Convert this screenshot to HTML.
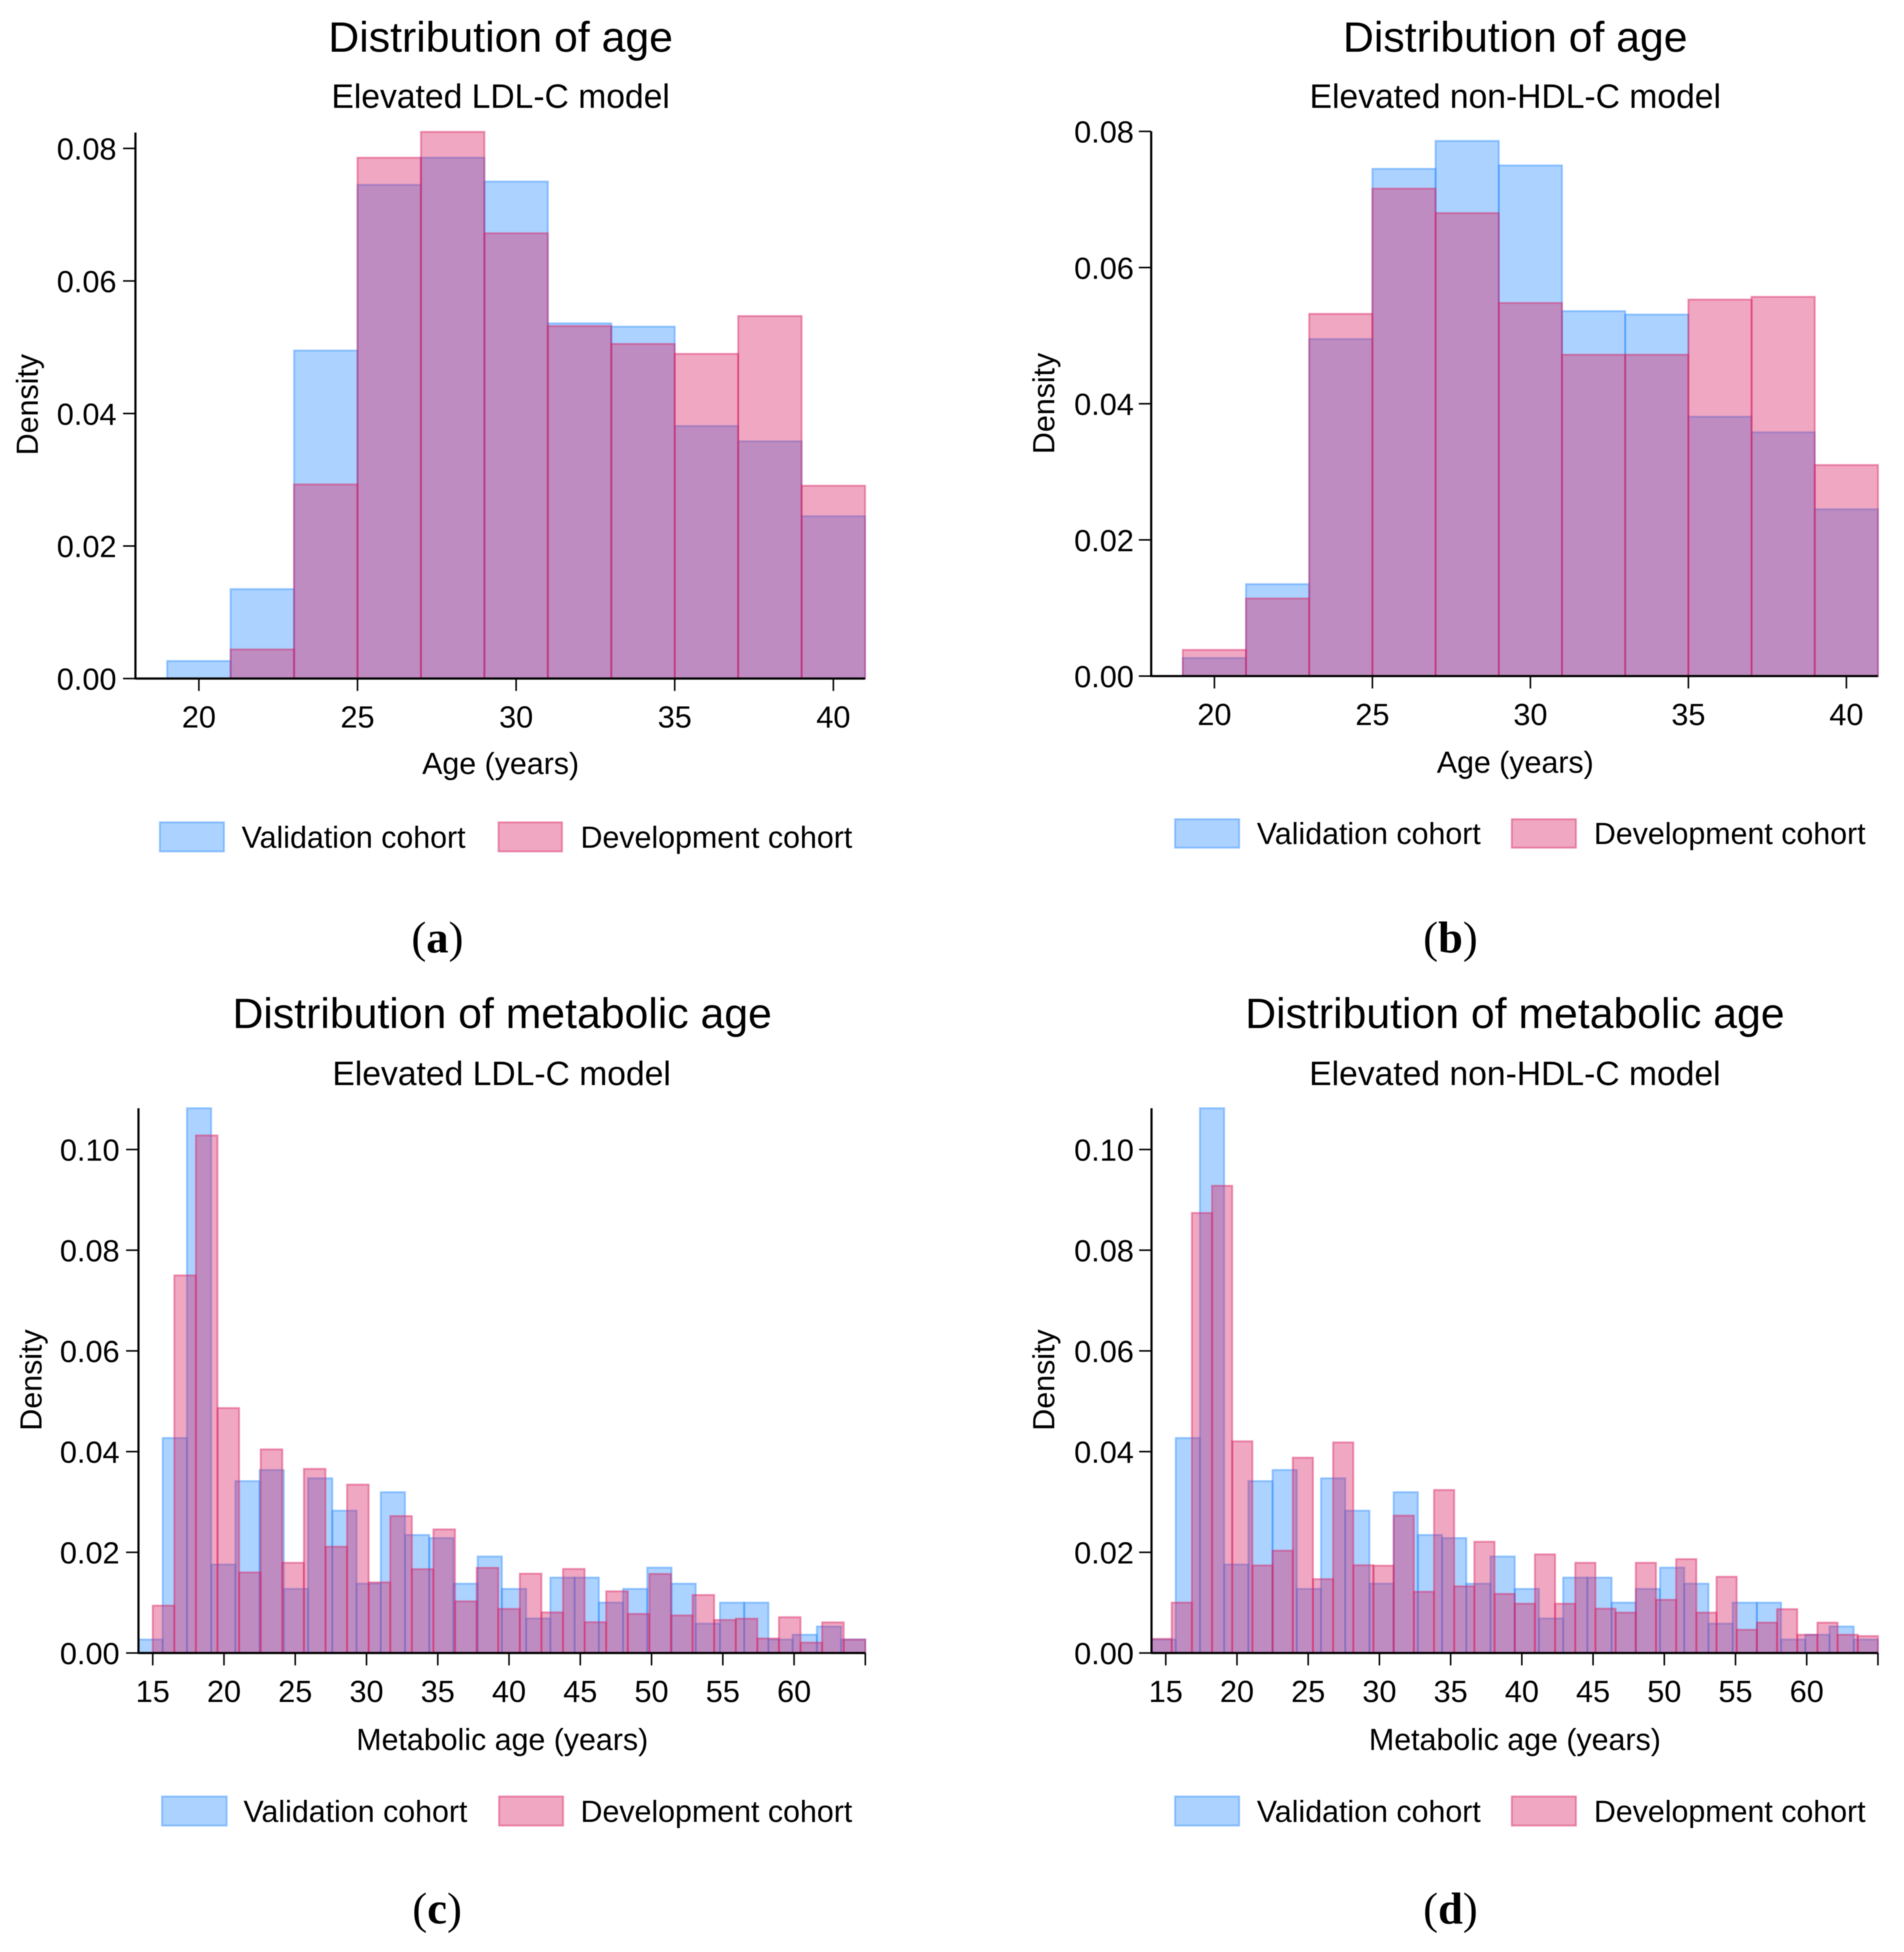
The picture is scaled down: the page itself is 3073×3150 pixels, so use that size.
<!DOCTYPE html>
<html lang="en">
<head>
<meta charset="utf-8">
<title>Distribution of age and metabolic age</title>
<style>
html,body{margin:0;padding:0;background:#fff;}
svg{display:block;filter:blur(0.7px);}
text{font-family:"Liberation Sans",Arial,sans-serif;fill:#000;}
.title{font-size:69px;text-anchor:middle;}
.subtitle{font-size:54.3px;text-anchor:middle;}
.axis-title,.legend-label{font-size:49px;}
.tick-label{font-size:49.5px;}
.axis-title{text-anchor:middle;}
.panel-letter{font-family:"Liberation Serif",serif;font-size:72px;text-anchor:middle;}
.panel-letter .b{font-weight:bold;}
.sw-blue{fill:#2f8eff;fill-opacity:.4;stroke:#2f8eff;stroke-opacity:.45;stroke-width:3;}
.sw-pink{fill:#d92364;fill-opacity:.4;stroke:#d92364;stroke-opacity:.45;stroke-width:3;}
</style>
</head>
<body>
<svg id="figure" xmlns="http://www.w3.org/2000/svg" width="3073" height="3150" viewBox="0 0 3073 3150">
<rect width="3073" height="3150" fill="#fff"/>

<g id="panel-a">
<text class="title" x="808" y="83.500">Distribution of age</text>
<text class="subtitle" x="808" y="174">Elevated LDL-C model</text>
<text class="axis-title" x="808" y="1249">Age (years)</text>
<text class="axis-title" transform="translate(61 653) rotate(-90)">Density</text>
<rect class="sw-blue" x="258" y="1327" width="103.500" height="47"/>
<text class="legend-label" x="390" y="1368">Validation cohort</text>
<rect class="sw-pink" x="804.600" y="1327" width="102.500" height="47"/>
<text class="legend-label" x="937" y="1368">Development cohort</text>
<text class="panel-letter" x="706" y="1537">(<tspan class="b">a</tspan>)</text>
</g>

<g id="panel-b">
<text class="title" x="2445.600" y="83.500">Distribution of age</text>
<text class="subtitle" x="2445.600" y="174">Elevated non-HDL-C model</text>
<text class="axis-title" x="2445.600" y="1247">Age (years)</text>
<text class="axis-title" transform="translate(1701.500 651) rotate(-90)">Density</text>
<rect class="sw-blue" x="1896.500" y="1322" width="103.500" height="46"/>
<text class="legend-label" x="2028.500" y="1362">Validation cohort</text>
<rect class="sw-pink" x="2440" y="1322" width="103.500" height="46"/>
<text class="legend-label" x="2572.500" y="1362">Development cohort</text>
<text class="panel-letter" x="2341" y="1537">(<tspan class="b">b</tspan>)</text>
</g>

<g id="panel-c">
<text class="title" x="810.500" y="1659">Distribution of metabolic age</text>
<text class="subtitle" x="809.600" y="1751">Elevated LDL-C model</text>
<text class="axis-title" x="810.600" y="2824">Metabolic age (years)</text>
<text class="axis-title" transform="translate(67 2227) rotate(-90)">Density</text>
<rect class="sw-blue" x="261.500" y="2899" width="104.400" height="47"/>
<text class="legend-label" x="393" y="2940">Validation cohort</text>
<rect class="sw-pink" x="805.500" y="2899" width="103.300" height="47"/>
<text class="legend-label" x="937" y="2940">Development cohort</text>
<text class="panel-letter" x="705.500" y="3104">(<tspan class="b">c</tspan>)</text>
</g>

<g id="panel-d">
<text class="title" x="2445" y="1659">Distribution of metabolic age</text>
<text class="subtitle" x="2445" y="1751">Elevated non-HDL-C model</text>
<text class="axis-title" x="2445" y="2824">Metabolic age (years)</text>
<text class="axis-title" transform="translate(1701.500 2227) rotate(-90)">Density</text>
<rect class="sw-blue" x="1896.500" y="2899" width="103.500" height="47"/>
<text class="legend-label" x="2028.500" y="2940">Validation cohort</text>
<rect class="sw-pink" x="2440" y="2899" width="103.500" height="47"/>
<text class="legend-label" x="2572.500" y="2940">Development cohort</text>
<text class="panel-letter" x="2341" y="3104">(<tspan class="b">d</tspan>)</text>
</g>
</svg>

<script>
// ----- chart data -----
const validationAge = [0.00265,0.0135,0.0495,0.0745,0.0786,0.0750,0.0536,0.0531,0.0381,0.0358,0.0245];
const developmentAgeLdl = [0.0044,0.0293,0.0786,0.0825,0.0672,0.0532,0.0505,0.0490,0.0547,0.0291];
const developmentAgeNonHdl = [0.00385,0.0114,0.0532,0.0716,0.0680,0.0548,0.0472,0.0472,0.0553,0.0557,0.0310];
const validationMetabolic = [0.00268,0.0427,0.1082,0.01757,0.03414,0.03635,0.01273,0.0347,0.02827,0.01377,0.03194,0.02344,0.02283,0.01377,0.01917,0.01273,0.00686,0.01498,0.01498,0.01001,0.01273,0.01696,0.01377,0.00583,0.0100,0.0100,0.00268,0.00363,0.00527,0.00268];
const developmentMetabolicLdl = [0.00941,0.0750,0.1028,0.04865,0.01601,0.04045,0.01792,0.03658,0.02111,0.03345,0.01403,0.0272,0.01666,0.02456,0.01027,0.01692,0.00876,0.01576,0.00807,0.0167,0.00613,0.01226,0.00777,0.01571,0.00747,0.01153,0.00656,0.00682,0.00289,0.00712,0.00207,0.00609,0.00268];
const developmentMetabolicNonHdl = [0.00281,0.01001,0.0874,0.0928,0.04205,0.0174,0.02033,0.0388,0.01468,0.04183,0.01744,0.01735,0.02728,0.01217,0.03238,0.01325,0.0221,0.01174,0.0098,0.0196,0.0098,0.01792,0.00881,0.00803,0.01792,0.01058,0.01865,0.00803,0.01515,0.00462,0.00604,0.00872,0.00363,0.00604,0.00363,0.00337];
const ageTicks = [20,25,30,35,40];
const ageTickLabels = ["20","25","30","35","40"];
const metabolicTicks = [15,20,25,30,35,40,45,50,55,60,65];
const metabolicTickLabels = ["15","20","25","30","35","40","45","50","55","60",""];
const ageDensityTicks = [0,0.02,0.04,0.06,0.08];
const ageDensityLabels = ["0.00","0.02","0.04","0.06","0.08"];
const metabolicDensityTicks = [0,0.02,0.04,0.06,0.08,0.10];
const metabolicDensityLabels = ["0.00","0.02","0.04","0.06","0.08","0.10"];

// ----- bin layout in data units -----
const ageBinStart = 19, ageBinWidth = 2;
const ageBinStartDevLdl = 21;
const metaBinStartVal = 14, metaBinWidthVal = 1.7;
const metaBinStartDevLdl = 15, metaBinWidthDevLdl = 50 / 33;
const metaBinStartDevNonHdl = 14, metaBinWidthDevNonHdl = 51 / 36;

const NS = 'http://www.w3.org/2000/svg';

function scale(d0, d1, r0, r1) {
  return function (v) { return r0 + (v - d0) * (r1 - r0) / (d1 - d0); };
}

function drawBars(group, panel, series, values, start, width, xs, ys, color) {
  values.forEach(function (v, i) {
    const x0 = xs(start + i * width);
    const x1 = xs(start + (i + 1) * width);
    const r = document.createElementNS(NS, 'rect');
    r.setAttribute('x', x0.toFixed(2));
    r.setAttribute('y', ys(v).toFixed(2));
    r.setAttribute('width', (x1 - x0).toFixed(2));
    r.setAttribute('height', (ys(0) - ys(v)).toFixed(2));
    r.setAttribute('fill', color);
    r.setAttribute('fill-opacity', '0.4');
    r.setAttribute('stroke', color);
    r.setAttribute('stroke-opacity', '0.45');
    r.setAttribute('stroke-width', '3');
    
    
    group.appendChild(r);
  });
}

function drawLine(group, x1, y1, x2, y2, w, name) {
  const l = document.createElementNS(NS, 'line');
  l.setAttribute('x1', x1);
  l.setAttribute('y1', y1);
  l.setAttribute('x2', x2);
  l.setAttribute('y2', y2);
  l.setAttribute('stroke', '#000');
  l.setAttribute('stroke-width', w);
  
  
  group.appendChild(l);
}

function drawLabel(group, x, y, anchor, str, name) {
  const t = document.createElementNS(NS, 'text');
  t.setAttribute('x', x);
  t.setAttribute('y', y);
  t.setAttribute('text-anchor', anchor);
  t.setAttribute('class', 'tick-label');
  
  
  t.textContent = str;
  group.appendChild(t);
}

function drawAxes(group, p, xs, ys, xTicks, xLabels, yTicks, yLabels) {
  const left = xs(p.xMin), right = xs(p.xMax), base = ys(0), top = ys(p.yMax);
  drawLine(group, left, base + 1.5, left, top, 3.5, p.id + '-y-axis-line');
  drawLine(group, left, base, right, base, 3.5, p.id + '-x-axis-line');
  xTicks.forEach(function (v, i) {
    drawLine(group, xs(v), base, xs(v), base + 20, 2.5, p.id + '-x-tick-' + v);
    if (xLabels[i]) {
      drawLabel(group, xs(v), base + p.xLabelDy, 'middle', xLabels[i], p.id + '-x-tick-label-' + v);
    }
  });
  yTicks.forEach(function (v, i) {
    drawLine(group, left - 20, ys(v), left, ys(v), 2.5, p.id + '-y-tick-' + i);
    drawLabel(group, p.yLabelX, ys(v) + 18, 'end', yLabels[i], p.id + '-y-tick-label-' + i);
  });
}

function drawPanel(p, xTicks, xLabels, yTicks, yLabels, blue, pink) {
  const g = document.getElementById(p.id);
  const xs = scale(p.xA[0], p.xA[1], p.xR[0], p.xR[1]);
  const ys = scale(p.yA[0], p.yA[1], p.yR[0], p.yR[1]);
  const plot = document.createElementNS(NS, 'g');
  
  
  g.appendChild(plot);
  drawBars(plot, p.id, 'validation', blue.values, blue.start, blue.width, xs, ys, '#2f8eff');
  drawBars(plot, p.id, 'development', pink.values, pink.start, pink.width, xs, ys, '#d92364');
  drawAxes(plot, p, xs, ys, xTicks, xLabels, yTicks, yLabels);
}

drawPanel(
  {id:'panel-a', xMin:18, xMax:41, yMax:0.0824, xA:[20,40], xR:[321,1345], yA:[0,0.08], yR:[1095,239.5], xLabelDy:79, yLabelX:188},
  ageTicks, ageTickLabels, ageDensityTicks, ageDensityLabels,
  {values:validationAge, start:ageBinStart, width:ageBinWidth},
  {values:developmentAgeLdl, start:ageBinStartDevLdl, width:ageBinWidth}
);
drawPanel(
  {id:'panel-b', xMin:18, xMax:41, yMax:0.08, xA:[20,40], xR:[1960,2980], yA:[0,0.08], yR:[1091,212], xLabelDy:79, yLabelX:1830},
  ageTicks, ageTickLabels, ageDensityTicks, ageDensityLabels,
  {values:validationAge, start:ageBinStart, width:ageBinWidth},
  {values:developmentAgeNonHdl, start:ageBinStart, width:ageBinWidth}
);
drawPanel(
  {id:'panel-c', xMin:14, xMax:65, yMax:0.1082, xA:[15,60], xR:[246.5,1281.6], yA:[0,0.1], yR:[2667.5,1855], xLabelDy:79, yLabelX:193},
  metabolicTicks, metabolicTickLabels, metabolicDensityTicks, metabolicDensityLabels,
  {values:validationMetabolic, start:metaBinStartVal, width:metaBinWidthVal},
  {values:developmentMetabolicLdl, start:metaBinStartDevLdl, width:metaBinWidthDevLdl}
);
drawPanel(
  {id:'panel-d', xMin:14, xMax:65, yMax:0.1082, xA:[15,60], xR:[1881.5,2916], yA:[0,0.1], yR:[2667.5,1855], xLabelDy:79, yLabelX:1830},
  metabolicTicks, metabolicTickLabels, metabolicDensityTicks, metabolicDensityLabels,
  {values:validationMetabolic, start:metaBinStartVal, width:metaBinWidthVal},
  {values:developmentMetabolicNonHdl, start:metaBinStartDevNonHdl, width:metaBinWidthDevNonHdl}
);
</script>
</body>
</html>
